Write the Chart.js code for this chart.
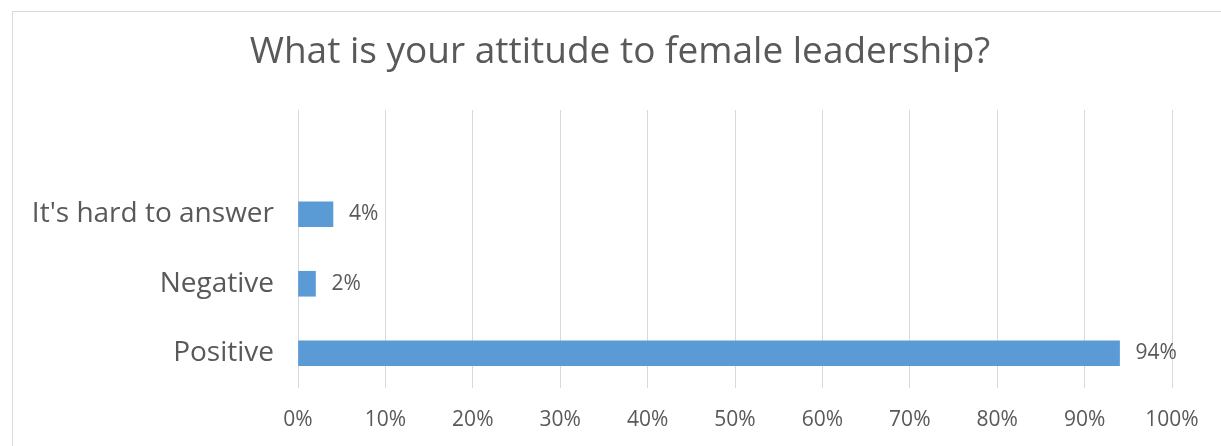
<!DOCTYPE html>
<html>
<head>
<meta charset="utf-8">
<script src="https://cdn.jsdelivr.net/npm/chart.js@4"></script>
<style>
  body { margin: 0; background: #fff; }
  #frame { position: absolute; left: 12px; top: 11px; width: 1230px; height: 460px; border: 1px solid #d9d9d9; }
  #wrap { position: absolute; left: 0; top: 0; width: 1221px; height: 446px; }
</style>
</head>
<body>
<div id="frame"></div>
<div id="wrap"><canvas id="chart"></canvas></div>
<script>
const title = 'What is your attitude to female leadership?';
const categories = ['', "It's hard to answer", 'Negative', 'Positive'];
const values = [null, 4, 2, 94];
const xTicks = [0, 10, 20, 30, 40, 50, 60, 70, 80, 90, 100];

const textColor = '#595959';
const fontFamily = '"Open Sans", "DejaVu Sans", sans-serif';

const titleAndLabels = {
    id: 'titleAndLabels',
    afterDatasetsDraw(chart) {
        const ctx = chart.ctx;
        ctx.save();
        ctx.fillStyle = textColor;
        ctx.font = '37px ' + fontFamily;
        ctx.textAlign = 'center';
        ctx.textBaseline = 'middle';
        ctx.fillText(title, 620, 52);

        ctx.font = '21px ' + fontFamily;
        ctx.textAlign = 'left';
        const meta = chart.getDatasetMeta(0);
        meta.data.forEach((bar, i) => {
            if (values[i] == null) return;
            ctx.fillText(values[i] + '%', bar.x + 16, bar.y);
        });
        ctx.restore();
    }
};

const data = {
    labels: categories,
    datasets: [{
        data: values,
        backgroundColor: '#5b9bd5',
        borderWidth: 0,
        barThickness: 25,
    }]
};

const config = {
    type: 'bar',
    data: data,
    options: {
        indexAxis: 'y',
        responsive: true,
        maintainAspectRatio: false,
        animation: false,
        layout: {
            padding: { top: 110, left: 0, right: 49, bottom: 0 }
        },
        scales: {
            x: {
                min: 0,
                max: 100,
                afterBuildTicks: (scale) => {
                    scale.ticks = xTicks.map(v => ({ value: v }));
                },
                afterFit: (scale) => { scale.height = 58; },
                grid: { color: '#d9d9d9', drawTicks: false },
                border: { display: false },
                ticks: {
                    padding: 19,
                    color: textColor,
                    font: { size: 21, family: fontFamily },
                    callback: (v) => v + '%',
                },
            },
            y: {
                afterFit: (scale) => { scale.width = 298; },
                grid: { display: false, drawTicks: false },
                border: { display: false },
                ticks: {
                    padding: 24,
                    color: textColor,
                    font: { size: 28, family: fontFamily },
                },
            },
        },
        plugins: {
            legend: { display: false },
            tooltip: { enabled: false },
        },
    },
    plugins: [titleAndLabels],
};

const chart = new Chart(
    document.getElementById('chart'),
    config
);
</script>
</body>
</html>
